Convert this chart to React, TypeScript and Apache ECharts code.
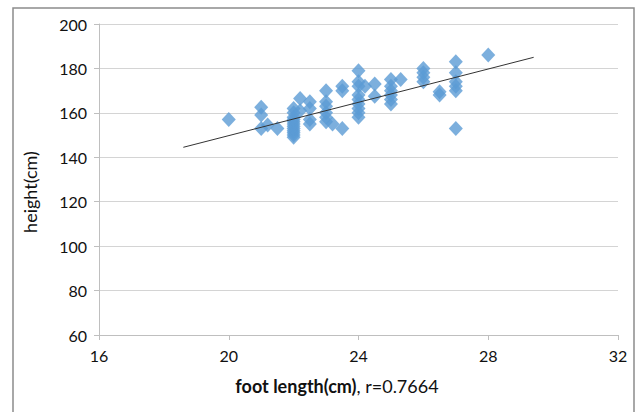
import React, { useEffect, useRef } from "react";
import * as echarts from "echarts";

const footLength = [
  20, 21, 21, 21, 21.2, 21.5,
  22, 22, 22, 22, 22, 22, 22, 22, 22, 22, 22, 22,
  22.2, 22.2, 22.5, 22.5, 22.5, 22.5,
  23, 23, 23, 23, 23, 23, 23.2, 23.5, 23.5, 23.5,
  24, 24, 24, 24, 24, 24, 24, 24, 24, 24.2, 24.5, 24.5,
  25, 25, 25, 25, 25, 25, 25.3,
  26, 26, 26, 26, 26.5, 26.5,
  27, 27, 27, 27, 27, 27, 28,
];
const heightCm = [
  157, 162.5, 159, 153, 154.5, 153,
  149, 150, 151, 152, 153, 154, 155, 156, 157, 158, 160, 162,
  166.5, 161, 165, 162, 157, 155,
  170, 165, 163, 160, 158, 156, 155, 172, 170, 153,
  179, 174, 172, 168, 166, 164, 162, 160, 158, 172, 173, 167.5,
  175, 172, 170, 168, 166, 164, 175,
  180, 178, 176, 174, 169.5, 168,
  183, 178, 174, 172, 170, 153, 186,
];
const trendX = [18.6, 29.4];
const trendY = [144.5, 185];
const xTicks = [16, 32, 4];
const yTicks = [60, 200, 20];

export default function App() {
  const ref = useRef<HTMLDivElement>(null);
  useEffect(() => {
    const chart = echarts.init(ref.current!, null, { renderer: "svg" });
    const font = "Lato, 'Open Sans', sans-serif";
    chart.setOption({
      animation: false,
      backgroundColor: "#fff",
      textStyle: { fontFamily: font },
      grid: { left: 99, right: 18, top: 24, bottom: 77 },
      graphic: [
        {
          type: "rect",
          shape: { x: 13, y: 8, width: 621, height: 412 },
          style: { fill: "none", stroke: "#8c8c8c", lineWidth: 1.5 },
          silent: true,
        },
        {
          type: "text",
          x: 30,
          y: 192,
          rotation: Math.PI / 2,
          style: {
            text: "height(cm)",
            fontSize: 18,
            fontFamily: font,
            fill: "#111",
            align: "center",
            verticalAlign: "middle",
          },
          silent: true,
        },
        {
          type: "text",
          x: 337,
          y: 386,
          style: {
            text: "{b|foot length(cm)}{n|, r=0.7664}",
            fontFamily: font,
            align: "center",
            verticalAlign: "middle",
            rich: {
              b: { fontWeight: "bold", fontSize: 18, fill: "#111", fontFamily: font },
              n: { fontSize: 18, fill: "#111", fontFamily: font },
            },
          },
          silent: true,
        },
      ],
      xAxis: {
        type: "value",
        min: xTicks[0],
        max: xTicks[1],
        interval: xTicks[2],
        axisLine: { show: true, lineStyle: { color: "#bfbfbf" } },
        axisTick: { show: true, length: 5, lineStyle: { color: "#bfbfbf" } },
        axisLabel: { color: "#111", fontSize: 16, margin: 12 },
        splitLine: { show: false },
      },
      yAxis: {
        type: "value",
        min: yTicks[0],
        max: yTicks[1],
        interval: yTicks[2],
        axisLine: { show: true, lineStyle: { color: "#bfbfbf" } },
        axisTick: { show: true, length: 5, lineStyle: { color: "#bfbfbf" } },
        axisLabel: { color: "#111", fontSize: 16, margin: 12 },
        splitLine: { show: true, lineStyle: { color: "#d4d4d4", width: 1 } },
      },
      series: [
        {
          type: "scatter",
          symbol: "diamond",
          symbolSize: [14, 15],
          itemStyle: { color: "#5b9bd5" },
          data: footLength.map((x, i) => [x, heightCm[i]]),
        },
        {
          type: "line",
          symbol: "none",
          lineStyle: { color: "#333", width: 1 },
          data: trendX.map((x, i) => [x, trendY[i]]),
          z: 3,
        },
      ],
    });
    return () => chart.dispose();
  }, []);
  return (
    <div
      ref={ref}
      style={{ position: "fixed", left: 0, top: 0, width: 636, height: 412 }}
    />
  );
}
